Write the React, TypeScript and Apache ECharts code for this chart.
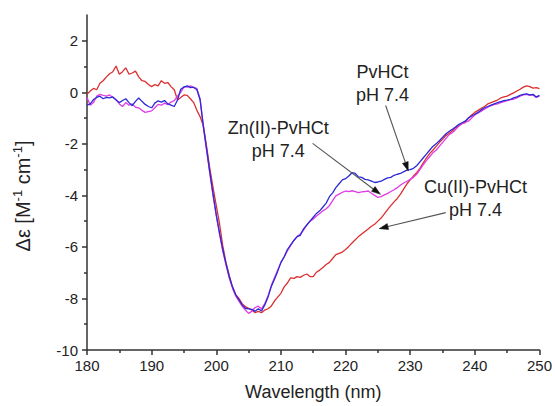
import React, { useEffect, useRef } from 'react';
import * as echarts from 'echarts';

// Wavelength samples (nm)
const wavelength = [
  180, 180.5, 181, 181.5, 182, 182.5, 183, 183.5, 184, 184.5,
  185, 185.5, 186, 186.5, 187, 187.5, 188, 188.5, 189, 189.5,
  190, 190.5, 191, 191.5, 192, 192.5, 193, 193.5, 194, 194.5,
  195, 195.5, 196, 196.5, 197, 197.5, 198, 198.5, 199, 199.5,
  200, 200.5, 201, 201.5, 202, 202.5, 203, 203.5, 204, 204.5,
  205, 205.5, 206, 206.5, 207, 207.5, 208, 208.5, 209, 209.5,
  210, 210.5, 211, 211.5, 212, 212.5, 213, 213.5, 214, 214.5,
  215, 215.5, 216, 216.5, 217, 217.5, 218, 218.5, 219, 219.5,
  220, 220.5, 221, 221.5, 222, 222.5, 223, 223.5, 224, 224.5,
  225, 225.5, 226, 226.5, 227, 227.5, 228, 228.5, 229, 229.5,
  230, 230.5, 231, 231.5, 232, 232.5, 233, 233.5, 234, 234.5,
  235, 235.5, 236, 236.5, 237, 237.5, 238, 238.5, 239, 239.5,
  240, 240.5, 241, 241.5, 242, 242.5, 243, 243.5, 244, 244.5,
  245, 245.5, 246, 246.5, 247, 247.5, 248, 248.5, 249, 249.5,
  250,
];

// Cu(II)-PvHCt pH 7.4 (red)
const cuValues = [
  -0.08, 0.05, 0.15, 0.1, 0.35, 0.45, 0.6, 0.72, 0.8, 1.02,
  0.7, 0.8, 0.95, 0.7, 0.75, 0.82, 0.6, 0.45, 0.42, 0.3,
  0.22, 0.3, 0.25, 0.45, 0.35, 0.38, 0.22, 0.1, -0.3, -0.2,
  -0.1, -0.12, -0.25, -0.4, -0.7, -0.95, -1.3, -2.1, -2.95, -3.7,
  -4.4, -5.1, -5.95, -6.6, -7.1, -7.55, -7.85, -8.0, -8.2, -8.32,
  -8.38, -8.45, -8.55, -8.5, -8.55, -8.45, -8.4, -8.3, -8.1, -7.95,
  -7.8, -7.55, -7.4, -7.2, -7.22, -7.15, -7.18, -7.1, -7.05, -7.15,
  -7.15, -6.98, -6.9, -6.8, -6.68, -6.6, -6.45, -6.3, -6.25, -6.2,
  -6.1, -5.98, -5.85, -5.72, -5.6, -5.5, -5.4, -5.3, -5.2, -5.12,
  -5.0, -4.88, -4.72, -4.55, -4.4, -4.25, -4.12, -3.95, -3.75, -3.55,
  -3.4, -3.25, -3.12, -2.95, -2.75, -2.55, -2.38, -2.25, -2.1, -1.95,
  -1.82, -1.68, -1.6, -1.5, -1.38, -1.3, -1.22, -1.18, -1.0, -0.88,
  -0.78, -0.7, -0.62, -0.55, -0.45, -0.4, -0.35, -0.3, -0.22, -0.18,
  -0.15, -0.08, -0.02, 0.05, 0.12, 0.2, 0.25, 0.22, 0.16, 0.18,
  0.14,
];

// PvHCt pH 7.4 (blue)
const pvValues = [
  -0.5, -0.45, -0.28, -0.2, -0.15, -0.25, -0.2, -0.22, -0.18, -0.3,
  -0.4, -0.32, -0.25, -0.4, -0.52, -0.35, -0.22, -0.35, -0.47, -0.55,
  -0.6, -0.42, -0.33, -0.38, -0.32, -0.45, -0.5, -0.55, -0.3, 0.12,
  0.2, 0.25, 0.18, 0.2, 0.1, -0.3, -1.3, -2.2, -3.1, -3.95,
  -4.75, -5.45, -6.1, -6.65, -7.15, -7.55, -7.85, -8.05, -8.25, -8.38,
  -8.4, -8.42, -8.5, -8.4, -8.48, -8.25, -7.95, -7.55, -7.25, -6.95,
  -6.6, -6.38, -6.1, -5.92, -5.75, -5.6, -5.55, -5.3, -5.15, -5.0,
  -4.85, -4.7, -4.6, -4.45, -4.3, -4.05, -3.9, -3.7, -3.55, -3.4,
  -3.35, -3.25, -3.12, -3.15, -3.28, -3.3, -3.38, -3.4, -3.45, -3.5,
  -3.48, -3.45, -3.38, -3.32, -3.3, -3.22, -3.18, -3.15, -3.08, -3.02,
  -3.0, -2.95, -2.85, -2.7, -2.55, -2.4, -2.25, -2.1, -2.0, -1.88,
  -1.75, -1.62, -1.52, -1.44, -1.35, -1.25, -1.18, -1.12, -1.0, -0.92,
  -0.85, -0.78, -0.68, -0.6, -0.55, -0.5, -0.45, -0.4, -0.36, -0.32,
  -0.3, -0.27, -0.22, -0.18, -0.12, -0.08, -0.06, -0.1, -0.08, -0.18,
  -0.12,
];

// Zn(II)-PvHCt pH 7.4 (magenta)
const znValues = [
  -0.2, -0.5, -0.4, -0.15, -0.08, -0.12, -0.15, -0.1, -0.2, -0.28,
  -0.45, -0.55, -0.4, -0.5, -0.45, -0.58, -0.6, -0.7, -0.78, -0.75,
  -0.72, -0.6, -0.47, -0.5, -0.42, -0.48, -0.38, -0.32, -0.15, 0.0,
  0.22, 0.2, 0.25, 0.18, 0.15, -0.25, -1.35, -2.25, -3.15, -4.0,
  -4.8, -5.5, -6.15, -6.7, -7.2, -7.6, -7.9, -8.1, -8.3, -8.45,
  -8.58, -8.5, -8.35, -8.3, -8.4, -8.2, -7.9, -7.5, -7.2, -6.9,
  -6.6, -6.4, -6.15, -5.95, -5.75, -5.6, -5.5, -5.35, -5.15, -5.0,
  -4.92, -4.8, -4.7, -4.6, -4.52, -4.4, -4.2, -4.02, -3.95, -3.88,
  -3.83, -3.85, -3.82, -3.85, -3.89, -3.86, -3.85, -3.83, -3.92, -4.0,
  -4.08, -4.05, -3.98, -3.92, -3.85, -3.78, -3.7, -3.6, -3.52, -3.45,
  -3.38, -3.3, -3.18, -3.0, -2.82, -2.65, -2.5, -2.35, -2.25, -2.1,
  -1.95, -1.8, -1.65, -1.57, -1.45, -1.32, -1.22, -1.16, -1.12, -1.0,
  -0.88, -0.8, -0.73, -0.65, -0.58, -0.52, -0.48, -0.45, -0.4, -0.36,
  -0.32, -0.28, -0.27, -0.22, -0.15, -0.1, -0.08, -0.12, -0.1, -0.2,
  -0.15,
];

const yTickLabels = [-10, -8, -6, -4, -2, 0, 2];
const yMinorTicks = [-9, -7, -5, -3, -1, 1];

// Annotations: text block centre, arrow start and end (data coordinates)
const annotationLabels = ['PvHCt\npH 7.4', 'Zn(II)-PvHCt\npH 7.4', 'Cu(II)-PvHCt\npH 7.4'];
const annotationTextAt = [[225.7, 0.36], [209.6, -1.83], [240.1, -4.11]];
const annotationArrowFrom = [[226.2, -0.51], [214.9, -1.98], [235.5, -4.67]];
const annotationArrowTo = [[229.7, -3.05], [225.4, -3.96], [225.2, -5.29]];

const FONT = '"Liberation Sans", Arial, Helvetica, sans-serif';
const AXIS_COLOR = '#333';

function zip(xs: number[], ys: number[]) {
  return xs.map((x, i) => [x, ys[i]]);
}

export default function App() {
  const ref = useRef<HTMLDivElement>(null);

  useEffect(() => {
    if (!ref.current) return;
    const chart = echarts.init(ref.current, undefined, { renderer: 'svg' });

    const line = (name: string, color: string, values: number[], z: number) => ({
      name,
      type: 'line',
      data: zip(wavelength, values),
      showSymbol: false,
      symbol: 'none',
      z,
      lineStyle: { color, width: 1.3 },
      itemStyle: { color },
    });

    chart.setOption({
      animation: false,
      backgroundColor: '#fff',
      grid: { left: 87, right: 14, top: 15, bottom: 55, containLabel: false },
      xAxis: {
        type: 'value',
        min: 180,
        max: 250,
        interval: 10,
        name: 'Wavelength (nm)',
        nameLocation: 'middle',
        nameGap: 33,
        nameTextStyle: { fontFamily: FONT, fontSize: 18, color: '#222' },
        axisLine: { show: true, onZero: false, lineStyle: { color: AXIS_COLOR, width: 1.5 } },
        axisTick: { show: true, length: 5, inside: false, lineStyle: { color: AXIS_COLOR, width: 1.5 } },
        minorTick: { show: true, splitNumber: 2, length: 3, lineStyle: { color: AXIS_COLOR, width: 1.5 } },
        axisLabel: { fontFamily: FONT, fontSize: 15, color: '#222', margin: 8 },
        splitLine: { show: false },
      },
      yAxis: [
        {
          type: 'value',
          min: -10,
          max: 3,
          interval: 2,
          axisLine: { show: true, onZero: false, lineStyle: { color: AXIS_COLOR, width: 1.5 } },
          axisTick: {
            show: true,
            length: 5,
            customValues: yTickLabels,
            lineStyle: { color: AXIS_COLOR, width: 1.5 },
          },
          axisLabel: {
            fontFamily: FONT,
            fontSize: 15,
            color: '#222',
            margin: 9,
            customValues: yTickLabels,
          },
          splitLine: { show: false },
        },
        {
          type: 'value',
          position: 'left',
          min: -10,
          max: 3,
          interval: 1,
          axisLine: { show: false, onZero: false },
          axisTick: {
            show: true,
            length: 3,
            customValues: yMinorTicks,
            lineStyle: { color: AXIS_COLOR, width: 1.5 },
          },
          axisLabel: { show: false },
          splitLine: { show: false },
        },
      ],
      series: [
        line('Cu(II)-PvHCt pH 7.4', '#dc2f2f', cuValues, 2),
        line('Zn(II)-PvHCt pH 7.4', '#e03ce6', znValues, 3),
        line('PvHCt pH 7.4', '#2b2bd6', pvValues, 4),
      ],
    });

    const px = (p: number[]) => chart.convertToPixel({ gridIndex: 0 }, p) as number[];

    const graphics: any[] = [];
    annotationLabels.forEach((label, i) => {
      const t = px(annotationTextAt[i]);
      graphics.push({
        type: 'text',
        x: t[0],
        y: t[1],
        z: 10,
        style: {
          text: label,
          fontFamily: FONT,
          fontSize: 18,
          lineHeight: 23,
          fill: '#222',
          align: 'center',
          verticalAlign: 'middle',
        },
      });
      const a = px(annotationArrowFrom[i]);
      const b = px(annotationArrowTo[i]);
      const dx = b[0] - a[0];
      const dy = b[1] - a[1];
      const len = Math.sqrt(dx * dx + dy * dy);
      const ux = dx / len;
      const uy = dy / len;
      const headLen = 9;
      const headW = 3;
      const baseX = b[0] - ux * headLen;
      const baseY = b[1] - uy * headLen;
      graphics.push({
        type: 'line',
        z: 10,
        shape: { x1: a[0], y1: a[1], x2: baseX, y2: baseY },
        style: { stroke: '#555', lineWidth: 1.1 },
      });
      graphics.push({
        type: 'polygon',
        z: 10,
        shape: {
          points: [
            [b[0], b[1]],
            [baseX - uy * headW, baseY + ux * headW],
            [baseX + uy * headW, baseY - ux * headW],
          ],
        },
        style: { fill: '#111', stroke: '#111', lineWidth: 0.5 },
      });
    });

    graphics.push({
      type: 'text',
      x: 23,
      y: 196,
      rotation: Math.PI / 2,
      z: 10,
      style: {
        text: '{n|Δε [M}{s|-1}{n| cm}{s|-1}{n|]}',
        align: 'center',
        verticalAlign: 'middle',
        fill: '#222',
        fontFamily: FONT,
        rich: {
          n: { fontFamily: FONT, fontSize: 20, lineHeight: 24, fill: '#222' },
          s: { fontFamily: FONT, fontSize: 13, lineHeight: 24, verticalAlign: 'top', fill: '#222' },
        },
      },
    });

    chart.setOption({ graphic: graphics });

    return () => chart.dispose();
  }, []);

  return (
    <div
      ref={ref}
      style={{ position: 'fixed', left: 0, top: 0, width: 555, height: 406, background: '#fff' }}
    />
  );
}
